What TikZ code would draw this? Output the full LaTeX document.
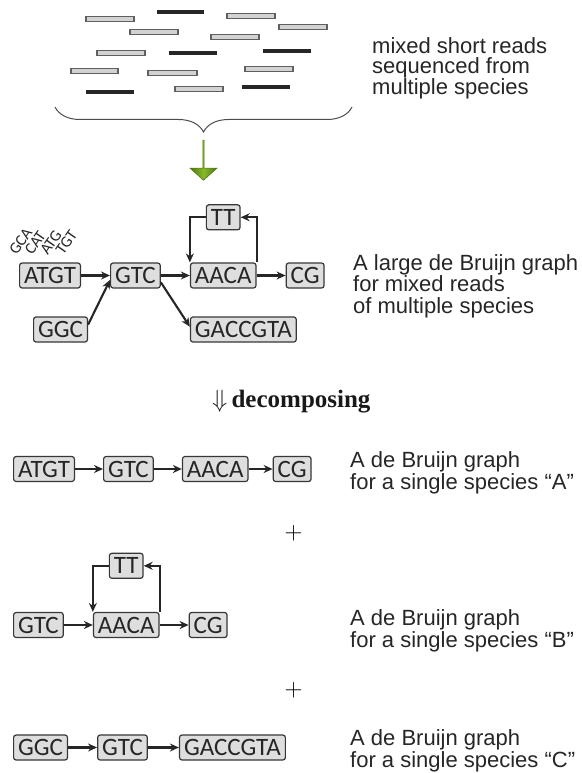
\documentclass[tikz,border=0pt]{standalone}
\usepackage{fontspec}
\usepackage{amsmath}
\usetikzlibrary{arrows.meta,positioning,shapes.arrows,decorations.pathreplacing,calc}
\setmainfont{Liberation Sans}
\newfontfamily\kmerfont{Carlito}
\newfontfamily\serifbf{Liberation Serif}
\definecolor{dbgbox}{RGB}{222,222,222}
\definecolor{dbgline}{RGB}{55,55,55}
\definecolor{dbggreen}{RGB}{135,185,40}
\definecolor{dbgdark}{RGB}{80,120,15}
\tikzset{
  kbox/.style={rectangle, rounded corners=2.5pt, draw=dbgline, fill=dbgbox, line width=1.2pt,
               text=black!85, font=\kmerfont\fontsize{25}{25}\selectfont,
               inner xsep=4.5pt, inner ysep=4.5pt, text height=16pt, text depth=0pt},
  karr/.style={-{Stealth[length=9pt,width=8pt]}, line width=2.1pt, black!85},
  klbl/.style={font=\kmerfont\fontsize{16}{16}\selectfont, rotate=55, anchor=south west,
               inner sep=0pt, text=black!85},
  note/.style={align=left, anchor=base west, inner sep=0pt, text=black!85,
               font=\fontsize{22}{21.5}\selectfont},
  readg/.style={draw=gray!75!black, fill=gray!35, line width=1.1pt},
  readb/.style={line width=3.4pt, black!85},
}

\begin{document}
\begin{tikzpicture}[x=1pt, y=-1pt, node distance=32pt and 29pt]
  \useasboundingbox (0,0) rectangle (581,773);
  % reads
  \foreach \xa/\xb/\yy in {86/134/19, 227/275/16, 279/327/27, 130/178/32, 211/259/37,
                           97/145/53, 71/118/71, 148/197/73, 245/293/69, 175/223/89}
    \draw[readg] (\xa,\yy-2.4) rectangle (\xb,\yy+2.4);
  \foreach \xa/\xb/\yy in {157/204/12, 169/217/53, 263/311/51, 86/134/92, 242/290/87}
    \draw[readb] (\xa,\yy) -- (\xb,\yy);
  \node[note, font=\fontsize{22}{19.5}\selectfont] (mixtxt) at (372,95) {mixed short reads\\sequenced from\\multiple species};
  \draw[decorate, decoration={brace, mirror, amplitude=25pt}, line width=1pt, gray!60!black] (55,107) -- (352,107);
  \node[single arrow, shape border rotate=270, draw=dbgdark, line width=0.6pt,
        left color=dbgdark, right color=dbgdark, middle color=dbggreen,
        minimum height=40pt, minimum width=27pt, single arrow head extend=7pt,
        single arrow tip angle=96, inner sep=0pt] (flow) at (203.5,160) {};

  % mixed graph
  \node[kbox, anchor=west] (atgt) at (19,275.5) {ATGT};
  \node[kbox, right=of atgt] (gtc) {GTC};
  \node[kbox, right=of gtc] (aaca) {AACA};
  \node[kbox, right=of aaca] (cg) {CG};
  \node[kbox, above=of aaca] (tt) {TT};
  \node[kbox, anchor=west] (ggc) at (33,329.5) {GGC};
  \node[kbox, anchor=west] (gacc) at (aaca.west |- ggc) {GACCGTA};
  \foreach \km [count=\i from 0] in {GCA,CAT,ATG,TGT}
    \node[klbl] (k\km) at (17+15.5*\i,256) {\km};
  \draw[karr] (atgt) -- (gtc);
  \draw[karr] (gtc) -- (aaca);
  \draw[karr] (aaca) -- (cg);
  \draw[karr] (ggc.10) -- (gtc.190);
  \draw[karr] (gtc.-15) -- (gacc.177);
  \draw[karr] (aaca.north east) |- (tt);
  \draw[karr] (tt) -| (aaca.north west);
  \node[note] (largetxt) at (353,313) {A large de Bruijn graph\\for mixed reads\\of multiple species};

  \node[anchor=base west, inner sep=0pt, text=black!90, font=\serifbf\bfseries\fontsize{25}{25}\selectfont] (decomp) at (212,407) {$\Downarrow$\,decomposing};

  % species A
  \node[kbox, anchor=west] (atgtA) at (13,469) {ATGT};
  \node[kbox, right=28pt of atgtA] (gtcA) {GTC};
  \node[kbox, right=28pt of gtcA] (aacaA) {AACA};
  \node[kbox, right=24pt of aacaA] (cgA) {CG};
  \draw[karr] (atgtA) -- (gtcA);
  \draw[karr] (gtcA) -- (aacaA);
  \draw[karr] (aacaA) -- (cgA);
  \node[note] (txtA) at (350,489) {A de Bruijn graph\\for a single species ``A''};

  \node[font=\fontsize{30}{30}\selectfont] (plusAB) at (293.5,533) {$+$};

  % species B
  \node[kbox, anchor=west] (gtcB) at (13,625) {GTC};
  \node[kbox, right=of gtcB] (aacaB) {AACA};
  \node[kbox, right=of aacaB] (cgB) {CG};
  \node[kbox, above=33pt of aacaB] (ttB) {TT};
  \draw[karr] (gtcB) -- (aacaB);
  \draw[karr] (aacaB) -- (cgB);
  \draw[karr] (aacaB.north east) |- (ttB);
  \draw[karr] (ttB) -| (aacaB.north west);
  \node[note] (txtB) at (350,647) {A de Bruijn graph\\for a single species ``B''};

  \node[font=\fontsize{30}{30}\selectfont] (plusBC) at (293.5,690) {$+$};

  % species C
  \node[kbox, anchor=west] (ggcC) at (13,747.5) {GGC};
  \node[kbox, right=of ggcC] (gtcC) {GTC};
  \node[kbox, right=31pt of gtcC] (gaccC) {GACCGTA};
  \draw[karr] (ggcC) -- (gtcC);
  \draw[karr] (gtcC) -- (gaccC);
  \node[note] (txtC) at (350,767) {A de Bruijn graph\\for a single species ``C''};
\end{tikzpicture}
\end{document}
